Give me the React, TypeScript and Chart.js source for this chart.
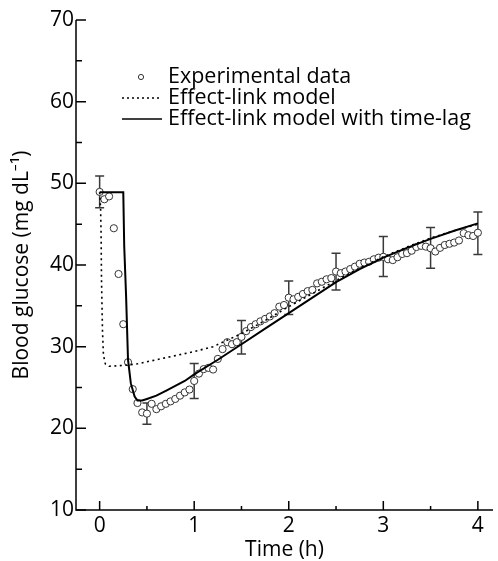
import { useEffect, useRef } from "react";
import { Chart, registerables } from "chart.js";

Chart.register(...registerables);

const FONT = "'Open Sans', 'Noto Sans', sans-serif";

// Experimental data (time in h, blood glucose in mg/dL)
const expTimes = [
  0, 0.05, 0.1, 0.15, 0.2, 0.25, 0.3, 0.35, 0.4, 0.45,
  0.5, 0.55, 0.6, 0.65, 0.7, 0.75, 0.8, 0.85, 0.9, 0.95,
  1.0, 1.05, 1.1, 1.15, 1.2, 1.25, 1.3, 1.35, 1.4, 1.45,
  1.5, 1.55, 1.6, 1.65, 1.7, 1.75, 1.8, 1.85, 1.9, 1.95,
  2.0, 2.05, 2.1, 2.15, 2.2, 2.25, 2.3, 2.35, 2.4, 2.45,
  2.5, 2.55, 2.6, 2.65, 2.7, 2.75, 2.8, 2.85, 2.9, 2.95,
  3.0, 3.05, 3.1, 3.15, 3.2, 3.25, 3.3, 3.35, 3.4, 3.45,
  3.5, 3.55, 3.6, 3.65, 3.7, 3.75, 3.8, 3.85, 3.9, 3.95,
  4.0,
];
const expGlucose = [
  48.95, 48.05, 48.4, 44.5, 38.9, 32.75, 28.1, 24.8, 23.1, 21.95,
  21.8, 23.0, 22.35, 22.7, 23.0, 23.3, 23.6, 24.0, 24.4, 24.75,
  25.8, 26.7, 27.25, 27.4, 27.2, 28.5, 29.7, 30.55, 30.3, 30.55,
  31.2, 31.9, 32.4, 32.75, 33.1, 33.4, 33.7, 34.1, 34.9, 35.1,
  36.0, 35.8, 36.1, 36.45, 36.8, 36.95, 37.75, 37.95, 38.25, 38.4,
  39.2, 39.0, 39.2, 39.5, 39.8, 40.15, 40.3, 40.4, 40.7, 40.9,
  41.0, 40.7, 40.6, 40.95, 41.35, 41.45, 41.75, 42.2, 42.35, 42.25,
  42.05, 41.65, 42.1, 42.45, 42.6, 42.75, 43.0, 43.9, 43.65, 43.55,
  43.95,
];

// Error bars
const errTimes = [0, 0.5, 1, 1.5, 2, 2.5, 3, 3.5, 4];
const errMeans = [48.95, 21.8, 25.8, 31.15, 36.0, 39.2, 41.05, 42.1, 43.9];
const errSD = [1.95, 1.3, 2.15, 2.05, 2.05, 2.25, 2.45, 2.5, 2.6];

// Effect-link model with time-lag (solid)
const lagTimes = [
  0, 0.25, 0.26, 0.28, 0.3, 0.33, 0.37, 0.4, 0.45, 0.5, 0.6, 0.7, 0.8, 0.9,
  1.0, 1.25, 1.5, 1.75, 2.0, 2.25, 2.5, 2.75, 3.0, 3.25, 3.5, 3.75, 4.0,
];
const lagGlucose = [
  48.9, 48.9, 42.3, 36.1, 28.4, 25.5, 23.9, 23.4, 23.4, 23.6, 24.0, 24.6, 25.2, 25.8,
  26.6, 28.4, 30.3, 32.2, 34.1, 36.0, 37.9, 39.5, 40.9, 42.1, 43.2, 44.2, 45.1,
];

// Effect-link model (dotted)
const linkTimes = [
  0, 0.01, 0.015, 0.02, 0.03, 0.04, 0.06, 0.1, 0.25, 0.4, 0.6, 0.8, 1.0, 1.2,
  1.5, 1.75, 2.0, 2.25, 2.5, 2.75, 3.0, 3.25, 3.5, 3.75, 4.0,
];
const linkGlucose = [
  48.9, 47.0, 44.0, 38.0, 32.0, 29.0, 27.9, 27.6, 27.7, 27.9, 28.4, 28.9, 29.4, 30.0,
  31.6, 33.2, 34.9, 36.5, 38.1, 39.6, 41.0, 42.2, 43.3, 44.2, 45.0,
];

const xTicks = [0, 1, 2, 3, 4];
const xMinorTicks = [0.5, 1.5, 2.5, 3.5];
const yTicks = [10, 20, 30, 40, 50, 60, 70];
const yMinorTicks = [15, 25, 35, 45, 55, 65];

const legendLabels = [
  "Experimental data",
  "Effect-link model",
  "Effect-link model with time-lag",
];

const zip = (xs: number[], ys: number[]) => xs.map((x, i) => ({ x, y: ys[i] }));

const customPlugin = {
  id: "customDecor",
  beforeDatasetsDraw(chart: any) {
    const { ctx, scales } = chart;
    const xs = scales.x;
    const ys = scales.y;
    ctx.save();
    ctx.strokeStyle = "#3a3a3a";
    ctx.lineWidth = 1.5;
    errTimes.forEach((t, i) => {
      const px = xs.getPixelForValue(t);
      const top = ys.getPixelForValue(errMeans[i] + errSD[i]);
      const bot = ys.getPixelForValue(errMeans[i] - errSD[i]);
      ctx.beginPath();
      ctx.moveTo(px, top);
      ctx.lineTo(px, bot);
      ctx.moveTo(px - 4.5, top);
      ctx.lineTo(px + 4.5, top);
      ctx.moveTo(px - 4.5, bot);
      ctx.lineTo(px + 4.5, bot);
      ctx.stroke();
    });
    ctx.restore();
  },
  afterDraw(chart: any) {
    const { ctx, scales, chartArea } = chart;
    const xs = scales.x;
    const ys = scales.y;
    ctx.save();
    ctx.strokeStyle = "#000";
    ctx.lineWidth = 1.5;
    // axes
    ctx.beginPath();
    ctx.moveTo(chartArea.left, chartArea.top);
    ctx.lineTo(chartArea.left, chartArea.bottom);
    ctx.lineTo(chartArea.right, chartArea.bottom);
    ctx.stroke();
    // ticks (inward)
    ctx.beginPath();
    xTicks.forEach((v) => {
      const p = xs.getPixelForValue(v);
      ctx.moveTo(p, chartArea.bottom);
      ctx.lineTo(p, chartArea.bottom - 9);
    });
    xMinorTicks.forEach((v) => {
      const p = xs.getPixelForValue(v);
      ctx.moveTo(p, chartArea.bottom);
      ctx.lineTo(p, chartArea.bottom - 4);
    });
    yTicks.forEach((v) => {
      const p = ys.getPixelForValue(v);
      ctx.moveTo(chartArea.left, p);
      ctx.lineTo(chartArea.left + 10, p);
    });
    yMinorTicks.forEach((v) => {
      const p = ys.getPixelForValue(v);
      ctx.moveTo(chartArea.left, p);
      ctx.lineTo(chartArea.left + 6, p);
    });
    ctx.stroke();

    // legend
    const lx0 = 122;
    const lx1 = 162;
    const tx = 168;
    const rows = [77, 98, 119];
    ctx.fillStyle = "#fff";
    ctx.strokeStyle = "#333";
    ctx.lineWidth = 1;
    ctx.beginPath();
    ctx.arc((lx0 + lx1) / 2 - 1, rows[0], 2.6, 0, Math.PI * 2);
    ctx.fill();
    ctx.stroke();
    ctx.strokeStyle = "#000";
    ctx.lineWidth = 1.5;
    ctx.setLineDash([2, 3]);
    ctx.beginPath();
    ctx.moveTo(lx0, rows[1]);
    ctx.lineTo(lx1, rows[1]);
    ctx.stroke();
    ctx.setLineDash([]);
    ctx.lineWidth = 1.5;
    ctx.beginPath();
    ctx.moveTo(lx0, rows[2]);
    ctx.lineTo(lx1, rows[2]);
    ctx.stroke();
    ctx.fillStyle = "#000";
    ctx.font = `21.5px ${FONT}`;
    ctx.textBaseline = "middle";
    ctx.textAlign = "left";
    legendLabels.forEach((s, i) => ctx.fillText(s, tx, rows[i]));
    ctx.restore();
  },
};

export default function App() {
  const ref = useRef<HTMLCanvasElement | null>(null);
  useEffect(() => {
    if (!ref.current) return;
    const chart = new Chart(ref.current, {
      type: "line",
      data: {
        datasets: [
          {
            label: legendLabels[2],
            data: zip(lagTimes, lagGlucose),
            borderColor: "#000",
            borderWidth: 2,
            pointRadius: 0,
            tension: 0,
            fill: false,
            order: 1,
          },
          {
            label: legendLabels[1],
            data: zip(linkTimes, linkGlucose),
            borderColor: "#000",
            borderWidth: 1.6,
            borderDash: [2, 3.5],
            pointRadius: 0,
            tension: 0,
            fill: false,
            order: 2,
          },
          {
            label: legendLabels[0],
            data: zip(expTimes, expGlucose),
            showLine: false,
            pointRadius: 3.6,
            pointBorderWidth: 1,
            pointBorderColor: "#333",
            pointBackgroundColor: "#fff",
            order: 3,
          },
        ],
      },
      options: {
        animation: false,
        responsive: false,
        devicePixelRatio: 1,
        layout: { padding: { top: 20, left: 0, right: 0, bottom: 0 } },
        plugins: { legend: { display: false }, tooltip: { enabled: false } },
        scales: {
          x: {
            type: "linear",
            min: -0.25,
            max: 4.16,
            grid: { display: false, drawTicks: false },
            border: { display: false },
            afterBuildTicks: (axis: any) => {
              axis.ticks = xTicks.map((v) => ({ value: v }));
            },
            afterFit: (scale: any) => {
              scale.height = 51;
            },
            ticks: {
              color: "#000",
              padding: 3,
              font: { family: FONT, size: 21 },
              maxRotation: 0,
            },
            title: {
              display: true,
              text: "Time (h)",
              color: "#000",
              font: { family: FONT, size: 21 },
              padding: { top: 0, bottom: -2 },
            },
          },
          y: {
            type: "linear",
            min: 10,
            max: 70,
            grid: { display: false, drawTicks: false },
            border: { display: false },
            afterBuildTicks: (axis: any) => {
              axis.ticks = yTicks.map((v) => ({ value: v }));
            },
            afterFit: (scale: any) => {
              scale.width = 76;
            },
            ticks: {
              color: "#000",
              padding: 2,
              font: { family: FONT, size: 21 },
            },
            title: {
              display: true,
              text: "Blood glucose (mg dL\u207B\u00B9)",
              color: "#000",
              font: { family: FONT, size: 21 },
              padding: { top: 9, bottom: 0 },
            },
          },
        },
      },
      plugins: [customPlugin],
    });
    return () => chart.destroy();
  }, []);
  return (
    <div style={{ position: "fixed", left: 0, top: 0, width: 498, height: 561, background: "#fff" }}>
      <canvas ref={ref} width={498} height={561} style={{ display: "block" }} />
    </div>
  );
}
